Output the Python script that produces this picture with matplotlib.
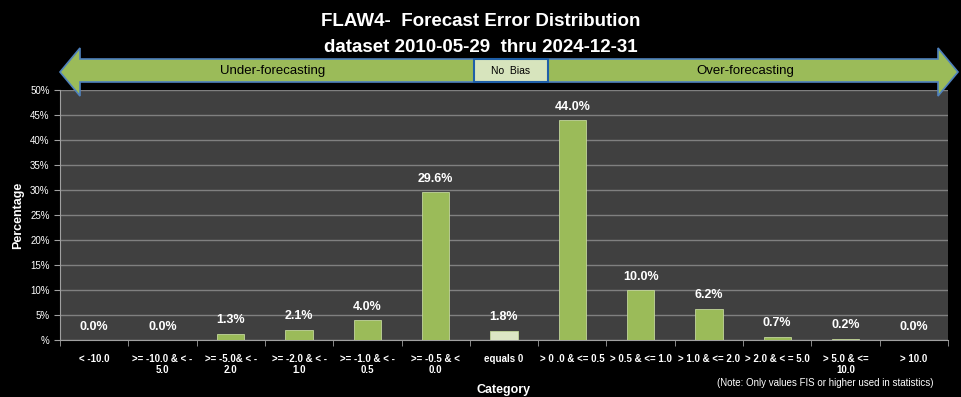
import matplotlib
matplotlib.use("Agg")
import matplotlib.pyplot as plt
from matplotlib.patches import Polygon, Rectangle
import numpy as np

categories = ["< -10.0", ">= -10.0 & < -\n5.0", ">= -5.0& < -\n2.0", ">= -2.0 & < -\n1.0",
              ">= -1.0 & < -\n0.5", ">= -0.5 & <\n0.0", "equals 0", "> 0 .0 & <= 0.5",
              "> 0.5 & <= 1.0", "> 1.0 & <= 2.0", "> 2.0 & < = 5.0", "> 5.0 & <=\n10.0", "> 10.0"]
values = [0.0, 0.0, 1.3, 2.1, 4.0, 29.6, 1.8, 44.0, 10.0, 6.2, 0.7, 0.2, 0.0]
yticks = [0, 5, 10, 15, 20, 25, 30, 35, 40, 45, 50]
ytick_labels = ["%"] + ["%d%%" % t for t in yticks[1:]]

plt.rcParams['font.family'] = ['Liberation Sans', 'DejaVu Sans']

W, H = 961, 397
fig = plt.figure(figsize=(W / 100, H / 100), dpi=100, facecolor="black")
ax = fig.add_axes([60 / W, 1 - 340 / H, 888 / W, 250 / H])
ax.set_facecolor("#404040")

x = np.arange(len(categories))
colors = ["#9bbb59"] * len(values)
colors[6] = "#dce6c4"
bars = ax.bar(x, values, 0.4, color=colors, edgecolor="#c3d69b", linewidth=0.6, zorder=3)
for b, v in zip(bars, values):
    ax.text(b.get_x() + b.get_width() / 2, v + 1.5, "%.1f%%" % v, ha="center",
            va="bottom", color="white", fontsize=9, fontweight="bold")

ax.set_xlim(-0.5, len(categories) - 0.5)
ax.set_ylim(0, 50)
ax.set_yticks(yticks)
ax.set_yticklabels(ytick_labels)
ax.set_xticks(np.arange(len(categories) + 1) - 0.5, minor=True)
ax.set_xticks(x)
ax.set_xticklabels(categories)
ax.tick_params(axis="x", which="major", length=0, pad=10, labelsize=7, colors="white")
ax.tick_params(axis="x", which="minor", length=4, color="#a0a0a0")
ax.tick_params(axis="y", length=4, color="#a0a0a0", labelsize=7, labelcolor="white")
for lbl in ax.get_xticklabels():
    lbl.set_fontweight("bold")
ax.grid(axis="y", color="#808080", linewidth=1, zorder=0)
for s in ["top", "right"]:
    ax.spines[s].set_visible(False)
for s in ["left", "bottom"]:
    ax.spines[s].set_color("#a0a0a0")

ax.set_ylabel("Percentage", color="white", fontsize=9, fontweight="bold")
ax.set_xlabel("Category", color="white", fontsize=9, fontweight="bold", labelpad=6)

fig.text(0.5, 1 - 22 / H, "FLAW4-  Forecast Error Distribution", ha="center", va="center",
         color="white", fontsize=13.5, fontweight="bold")
fig.text(0.5, 1 - 47 / H, "dataset 2010-05-29  thru 2024-12-31", ha="center", va="center",
         color="white", fontsize=13.5, fontweight="bold")

# double-headed arrow in pixel coordinates
pts = [(60, 72), (80, 48), (80, 59), (938, 59), (938, 48), (958, 72), (938, 96), (938, 82),
       (80, 82), (80, 96)]
fig.patches.append(Polygon([(px / W, 1 - py / H) for px, py in pts], closed=True,
                           transform=fig.transFigure, facecolor="#9bbb59",
                           edgecolor="#4f81bd", linewidth=1.2, zorder=5))
fig.patches.append(Rectangle((474 / W, 1 - 82 / H), 74 / W, 23 / H, transform=fig.transFigure,
                             facecolor="#d7e4bd", edgecolor="#1f5fa8", linewidth=1.5, zorder=6))
fig.text(511 / W, 1 - 71 / H, "No  Bias", ha="center", va="center", fontsize=7.5,
         color="black", zorder=7)
fig.text(273 / W, 1 - 71 / H, "Under-forecasting", ha="center", va="center", fontsize=9.5,
         color="black", zorder=7)
fig.text(745 / W, 1 - 71 / H, "Over-forecasting", ha="center", va="center", fontsize=9.5,
         color="black", zorder=7)
fig.text(825 / W, 1 - 383 / H, "(Note: Only values FIS or higher used in statistics)",
         ha="center", va="center", fontsize=7, color="white")

fig.savefig("out.png", dpi=100, facecolor="black")
